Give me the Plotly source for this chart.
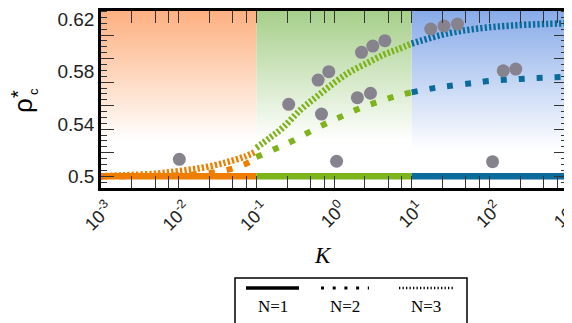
import plotly.graph_objects as go

# ---------------- data ----------------
# regime boundaries along K (orange, green, blue regimes)
regime_edges = [1e-3, 1e-1, 1e1, 1e3]
regime_line_colors = ["#ef7e00", "#7db31b", "#0b6c9c"]
regime_bg_colors = ["#fdb080", "#a6cf8a", "#88abe9"]
regime_fade_start = [0.527, 0.527, 0.52]   # rho value where the background becomes white

# N = 1 critical density (flat)
n1_value = 0.5

# N = 2 curve, per regime
n2_K = [
    [0.001, 0.003, 0.01, 0.02, 0.04, 0.07, 0.1],
    [0.1, 0.2, 0.3, 0.5, 0.8, 1.3, 2.2, 3.6, 6, 10],
    [10, 20, 30, 60, 100, 200, 400, 1000],
]
n2_rho = [
    [0.5, 0.5002, 0.5008, 0.502, 0.5045, 0.509, 0.5135],
    [0.5147, 0.5225, 0.5274, 0.5344, 0.5405, 0.5462, 0.5522, 0.5567, 0.561, 0.5642],
    [0.5642, 0.5676, 0.569, 0.5712, 0.5729, 0.5741, 0.5751, 0.576],
]

# N = 3 curve, per regime
n3_K = [
    [0.001, 0.002, 0.005, 0.01, 0.02, 0.04, 0.07, 0.1],
    [0.1, 0.15, 0.22, 0.37, 0.6, 1, 1.6, 2.7, 4.4, 6.5, 10],
    [10, 30, 80, 200, 550, 1000],
]
n3_rho = [
    [0.5, 0.5008, 0.502, 0.504, 0.5065, 0.5105, 0.515, 0.519],
    [0.5218, 0.5295, 0.5373, 0.5508, 0.561, 0.5714, 0.5798, 0.5867, 0.5931, 0.5969, 0.6015],
    [0.6015, 0.6094, 0.6133, 0.6153, 0.6165, 0.617],
]

# simulation points (grey circles)
sim_K = [0.0102, 0.261, 0.69, 0.625, 0.857, 1.08, 2.0, 2.95, 2.26, 3.16, 4.52,
         17.6, 26.1, 38.9, 151, 219, 110]
sim_rho = [0.513, 0.555, 0.5476, 0.5736, 0.58, 0.5115, 0.5601, 0.5635, 0.5948, 0.5996, 0.6037,
           0.6126, 0.6149, 0.6164, 0.5807, 0.582, 0.5112]

# axes
x_tickvals = [1e-3, 1e-2, 1e-1, 1e0, 1e1, 1e2, 1e3]
x_ticktext = ["10<sup>-3</sup>", "10<sup>-2</sup>", "10<sup>-1</sup>", "10<sup>0</sup>",
              "10<sup>1</sup>", "10<sup>2</sup>", "10<sup>3</sup>"]
x_minor_mult = [2.5, 5, 7.5]
y_tickvals = [0.5, 0.54, 0.58, 0.62]
y_ticktext = ["0.5", "0.54", "0.58", "0.62"]
y_range = [0.49106, 0.62638]

legend_labels = ["N=1", "N=2", "N=3"]

# ---------------- layout helpers ----------------
# the page body has an 8px margin, so the figure is laid out 8px smaller
OFF = 8
W, H = 572 - OFF, 323 - OFF
PLOT_L, PLOT_T, PW, PH = 101, 11, 466, 177          # screen pixels of the plot area
ML, MT = PLOT_L - OFF, PLOT_T - OFF
MR, MB = W - ML - PW, H - MT - PH


def px(x):   # screen x pixel -> paper
    return (x - PLOT_L) / PW


def py(y):   # screen y pixel -> paper
    return (PLOT_T + PH - y) / PH


fig = go.Figure()

# background gradient bands
for i in range(3):
    k0, k1 = regime_edges[i], regime_edges[i + 1]
    fig.add_trace(go.Scatter(
        x=[k0, k1, k1, k0, k0], y=[y_range[0], y_range[0], y_range[1], y_range[1], y_range[0]],
        mode="lines", line=dict(width=0), fill="toself",
        fillgradient=dict(type="vertical",
                          colorscale=[[0, "rgba(255,255,255,1)"], [1, regime_bg_colors[i]]],
                          start=regime_fade_start[i], stop=y_range[1]),
        hoverinfo="skip", showlegend=False))

# N=3 (fine dotted)
for i in range(3):
    fig.add_trace(go.Scatter(x=n3_K[i], y=n3_rho[i], mode="lines",
                             line=dict(color=regime_line_colors[i], width=6.5, dash="2.3px,2.1px",
                                       shape="spline"),
                             showlegend=False))
# N=2 (square dots)
for i in range(3):
    fig.add_trace(go.Scatter(x=n2_K[i], y=n2_rho[i], mode="lines",
                             line=dict(color=regime_line_colors[i], width=6, dash="6px,12px",
                                       shape="spline"),
                             showlegend=False))
# N=1 (solid)
for i in range(3):
    fig.add_trace(go.Scatter(x=[regime_edges[i], regime_edges[i + 1]], y=[n1_value, n1_value],
                             mode="lines", line=dict(color=regime_line_colors[i], width=6.5),
                             showlegend=False))

# simulation points
fig.add_trace(go.Scatter(x=sim_K, y=sim_rho, mode="markers",
                         marker=dict(size=13, color="#86828e", line=dict(width=0)),
                         showlegend=False))

minor_vals = [m * d for d in x_tickvals[:-1] for m in x_minor_mult]

tickfont = dict(family="Liberation Sans, Arial, sans-serif", size=19, color="#222")

fig.update_layout(
    width=W, height=H,
    margin=dict(l=ML, r=MR, t=MT, b=MB, autoexpand=False),
    paper_bgcolor="white", plot_bgcolor="white",
    showlegend=False,
    xaxis=dict(type="log", range=[-3, 3], tickvals=x_tickvals, ticktext=x_ticktext,
               tickangle=-45, tickfont=dict(family="Liberation Sans, Arial, sans-serif", size=18,
                                            color="#222"),
               ticklabeloverflow="allow", ticklabelshift=7,
               ticks="inside", ticklen=12, tickwidth=1.3, tickcolor="#333",
               minor=dict(tickvals=minor_vals, ticks="inside", ticklen=6, tickwidth=1.3,
                          tickcolor="#333"),
               showline=True, linecolor="black", linewidth=2.5, mirror="allticks",
               showgrid=False, zeroline=False, automargin=False),
    yaxis=dict(range=y_range, tickvals=y_tickvals, ticktext=y_ticktext, tickfont=tickfont,
               ticklabeloverflow="allow",
               ticks="", minor=dict(tick0=0.5, dtick=0.0045, ticks="inside", ticklen=6,
                                    tickwidth=1.3, tickcolor="#333"),
               showline=True, linecolor="black", linewidth=2.5, mirror="allticks",
               showgrid=False, zeroline=False, automargin=False),
    yaxis2=dict(range=y_range, overlaying="y", side="left", tick0=0.5, dtick=0.018,
                ticks="inside", ticklen=13, tickwidth=1.3, tickcolor="#333",
                showticklabels=False, showline=False, mirror="ticks",
                showgrid=False, zeroline=False, automargin=False),
)

# invisible trace to anchor yaxis2
fig.add_trace(go.Scatter(x=[1e-3], y=[y_range[0]], yaxis="y2", mode="markers",
                         marker=dict(opacity=0), hoverinfo="skip", showlegend=False))

annos = []
base = dict(xref="paper", yref="paper", showarrow=False, xanchor="center", yanchor="middle")
sans = "Liberation Sans, Arial, sans-serif"
serif = "Liberation Serif, Times New Roman, serif"
# y-axis title rho*_c
annos.append(dict(base, text="ρ", x=px(23), y=py(106), textangle=-90,
                  font=dict(family=sans, size=26, color="black")))
annos.append(dict(base, text="*", x=px(18), y=py(94), textangle=-90,
                  font=dict(family=sans, size=20, color="black")))
annos.append(dict(base, text="c", x=px(33), y=py(92), textangle=-90,
                  font=dict(family=sans, size=13, color="black")))
# x-axis title
annos.append(dict(base, text="<i>K</i>", x=px(323), y=py(255),
                  font=dict(family=serif, size=23, color="black")))

# manual legend
shapes = [dict(type="rect", xref="paper", yref="paper", x0=px(235), x1=px(467), y0=py(278),
               y1=py(335), line=dict(color="black", width=1.5), fillcolor="white", layer="above")]
leg_x = [(246, 299), (321, 369), (399, 453)]
leg_dash = ["solid", "3px,8.7px", "1.3px,2.2px"]
leg_w = [3.4, 3, 2.6]
for i in range(3):
    shapes.append(dict(type="line", xref="paper", yref="paper", x0=px(leg_x[i][0]),
                       x1=px(leg_x[i][1]), y0=py(288), y1=py(288),
                       line=dict(color="black", width=leg_w[i], dash=leg_dash[i]), layer="above"))
    annos.append(dict(base, text=legend_labels[i], x=px((leg_x[i][0] + leg_x[i][1]) / 2),
                      y=py(306.5), font=dict(family=serif, size=17, color="black")))

fig.update_layout(annotations=annos, shapes=shapes)

fig.write_html("out.html")
